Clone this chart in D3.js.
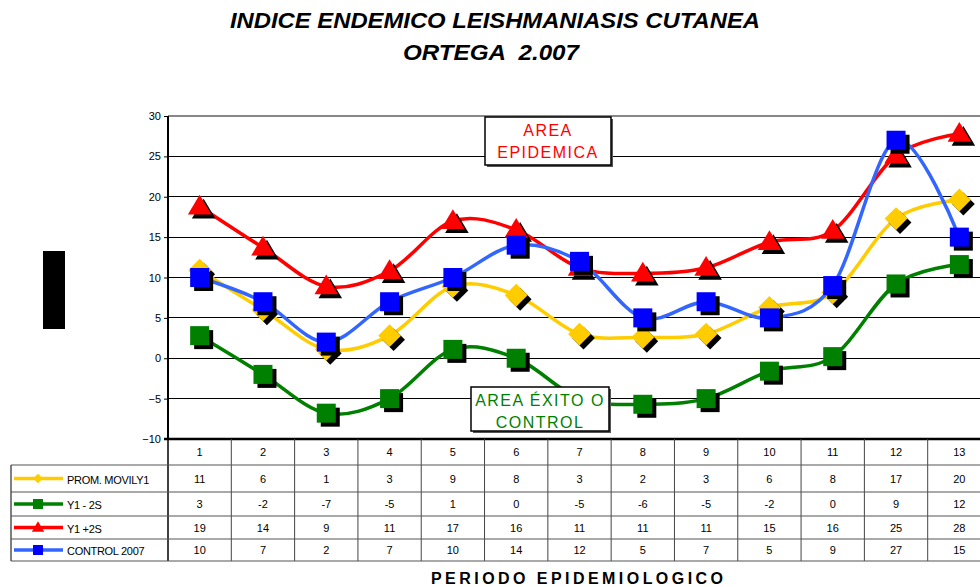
<!DOCTYPE html>
<html><head><meta charset="utf-8">
<script src="https://cdn.jsdelivr.net/npm/d3@7"></script>
<style>body{margin:0;background:#fff}svg{display:block;font-family:"Liberation Sans",Arial,sans-serif}</style>
</head><body>
<svg id="c" width="980" height="587"></svg>
<script>
const categories = ["1","2","3","4","5","6","7","8","9","10","11","12","13"];
const seriesNames = ["PROM. MOVILY1","Y1 - 2S","Y1 +2S","CONTROL 2007"];
const promMovil = [10.9,6.0,1.1,2.8,8.9,7.8,3.0,2.6,3.0,6.3,8.1,17.3,19.6];
const y1Minus2S = [2.8,-2.0,-6.8,-5.0,1.1,0.0,-5.0,-5.7,-5.0,-1.6,0.2,9.2,11.6];
const y1Plus2S  = [18.8,13.7,8.9,10.8,17.0,15.9,11.2,10.5,11.2,14.4,15.8,25.1,27.8];
const control07 = [10,7,2,7,10,14,12,5,7,5,9,27,15];
const tablePM = [11,6,1,3,9,8,3,2,3,6,8,17,20];
const tableM2 = [3,-2,-7,-5,1,0,-5,-6,-5,-2,0,9,12];
const tableP2 = [19,14,9,11,17,16,11,11,11,15,16,25,28];
const tableC  = [10,7,2,7,10,14,12,5,7,5,9,27,15];
const yTicks = [30,25,20,15,10,5,0,-5,-10];

const svg = d3.select("#c");
const L=168, R=991, T=116, B=439;
const x = d3.scaleBand().domain(categories).range([L,R]);
const y = d3.scaleLinear().domain([-10,30]).range([B,T]);
const cx = c => x(c)+x.bandwidth()/2;

// title
svg.append("text").attr("x",495).attr("y",28).attr("text-anchor","middle")
  .attr("font-size",22).attr("font-weight","bold").attr("font-style","italic")
  .attr("textLength",530).attr("lengthAdjust","spacingAndGlyphs")
  .text("INDICE ENDEMICO LEISHMANIASIS CUTANEA");
svg.append("text").attr("x",491).attr("y",60).attr("text-anchor","middle")
  .attr("font-size",22).attr("font-weight","bold").attr("font-style","italic")
  .attr("xml:space","preserve").style("white-space","pre")
  .attr("textLength",176).attr("lengthAdjust","spacingAndGlyphs")
  .text("ORTEGA  2.007");

// black rectangle
svg.append("rect").attr("x",43).attr("y",251).attr("width",22).attr("height",78).attr("fill","#000");

// gridlines
svg.append("g").selectAll("line").data(yTicks).join("line")
  .attr("x1",L).attr("x2",R).attr("y1",d=>y(d)).attr("y2",d=>y(d))
  .attr("stroke",d=>d===30?"#888":"#000").attr("stroke-width",d=>d===30?2:1).attr("shape-rendering","crispEdges");
// y axis
const ya = svg.append("g").attr("transform",`translate(${L},0)`)
  .call(d3.axisLeft(y).tickValues(yTicks).tickSize(4).tickPadding(3));
ya.select(".domain").remove();
ya.selectAll("line").attr("stroke","#000");
ya.selectAll("text").attr("font-size",11).attr("fill","#000").attr("font-family","Liberation Sans, Arial");
svg.append("line").attr("x1",L).attr("x2",L).attr("y1",T).attr("y2",B).attr("stroke","#000").attr("stroke-width",2);
svg.append("line").attr("x1",L-4).attr("x2",R).attr("y1",B).attr("y2",B).attr("stroke","#000").attr("stroke-width",2.5);

// annotation boxes
function box(x0,y0,w,h,lines,color){
  svg.append("rect").attr("x",x0+2).attr("y",y0+2).attr("width",w).attr("height",h).attr("fill","#555");
  svg.append("rect").attr("x",x0).attr("y",y0).attr("width",w).attr("height",h).attr("fill","#fff").attr("stroke","#000").attr("stroke-width",1.5);
  lines.forEach((t,i)=>svg.append("text").attr("x",x0+w/2).attr("y",y0+19+i*22).attr("text-anchor","middle")
    .attr("font-size",16).attr("letter-spacing",1.5).attr("fill",color).text(t));
}

// series
const line = d3.line().x((d,i)=>cx(categories[i])).y(d=>y(d)).curve(d3.curveCatmullRom.alpha(0));
const S = [
  {vals:promMovil, line:"#FFCC00", fill:"#FFCC00", sym:"diamond"},
  {vals:y1Minus2S, line:"#008000", fill:"#008000", sym:"square"},
  {vals:y1Plus2S,  line:"#FF0000", fill:"#FF0000", sym:"triangle"},
  {vals:control07, line:"#3366FF", fill:"#0000FF", sym:"square"}
];
function marker(g,sym,px,py,fill,size){
  const s=size;
  if(sym==="square") g.append("rect").attr("x",px-s/2).attr("y",py-s/2).attr("width",s).attr("height",s).attr("fill",fill);
  else if(sym==="diamond") g.append("path").attr("d",`M${px},${py-s*0.6}L${px+s*0.6},${py}L${px},${py+s*0.6}L${px-s*0.6},${py}Z`).attr("fill",fill);
  else g.append("path").attr("d",`M${px},${py-s*0.62}L${px+s*0.62},${py+s*0.42}L${px-s*0.62},${py+s*0.42}Z`).attr("fill",fill);
}
const plot = svg.append("g");
S.forEach((s,k)=>{
  plot.append("path").attr("d",line(s.vals)).attr("fill","none").attr("stroke",s.line).attr("stroke-width",3.5);
  const g = plot.append("g");
  s.vals.forEach((v,i)=>{
    marker(g,s.sym,cx(categories[i])+4,y(v)+4,"#000",19);
    marker(g,s.sym,cx(categories[i]),y(v),s.fill,19);
  });
  if(k===1){ box(471,387,138,44,["AREA ÉXITO O","CONTROL"],"#008000"); }
});
box(485,117,126,48,["AREA","EPIDEMICA"],"#FF0000");

// data table
const rowsY = [439,465,492,516,539,561];
const tbl = svg.append("g");
const colEdges = categories.map(c=>x(c)).concat([R]);
colEdges.forEach((e,i)=>tbl.append("line").attr("x1",e).attr("x2",e).attr("y1",B).attr("y2",561)
  .attr("stroke",i===0?"#000":"#444").attr("stroke-width",i===0?1.5:1));
rowsY.slice(1).forEach(yy=>tbl.append("line").attr("x1",11).attr("x2",R).attr("y1",yy).attr("y2",yy).attr("stroke","#555").attr("stroke-width",1.2));
tbl.append("line").attr("x1",11).attr("x2",11).attr("y1",465).attr("y2",561).attr("stroke","#555").attr("stroke-width",1.5);
categories.forEach(c=>tbl.append("text").attr("x",cx(c)).attr("y",456).attr("text-anchor","middle").attr("font-size",11).text(c));
const tableRows=[tablePM,tableM2,tableP2,tableC];
tableRows.forEach((arr,r)=>{
  const ym=(rowsY[r+1]+rowsY[r+2])/2+4;
  arr.forEach((v,i)=>tbl.append("text").attr("x",cx(categories[i])).attr("y",ym).attr("text-anchor","middle").attr("font-size",11).text(v));
  const s=S[r];
  tbl.append("line").attr("x1",14).attr("x2",63).attr("y1",ym-4).attr("y2",ym-4).attr("stroke",s.line).attr("stroke-width",3.5);
  marker(tbl,s.sym,38,ym-4,s.fill,s.sym==="diamond"?8:10);
  tbl.append("text").attr("x",67).attr("y",ym+1).attr("font-size",11).attr("letter-spacing",-0.3).text(seriesNames[r]);
});

// x axis title
svg.append("text").attr("x",577).attr("y",584).attr("text-anchor","middle").attr("font-size",16)
  .attr("font-weight","bold").attr("textLength",292).attr("lengthAdjust","spacing").text("PERIODO EPIDEMIOLOGICO");
</script>
</body></html>
